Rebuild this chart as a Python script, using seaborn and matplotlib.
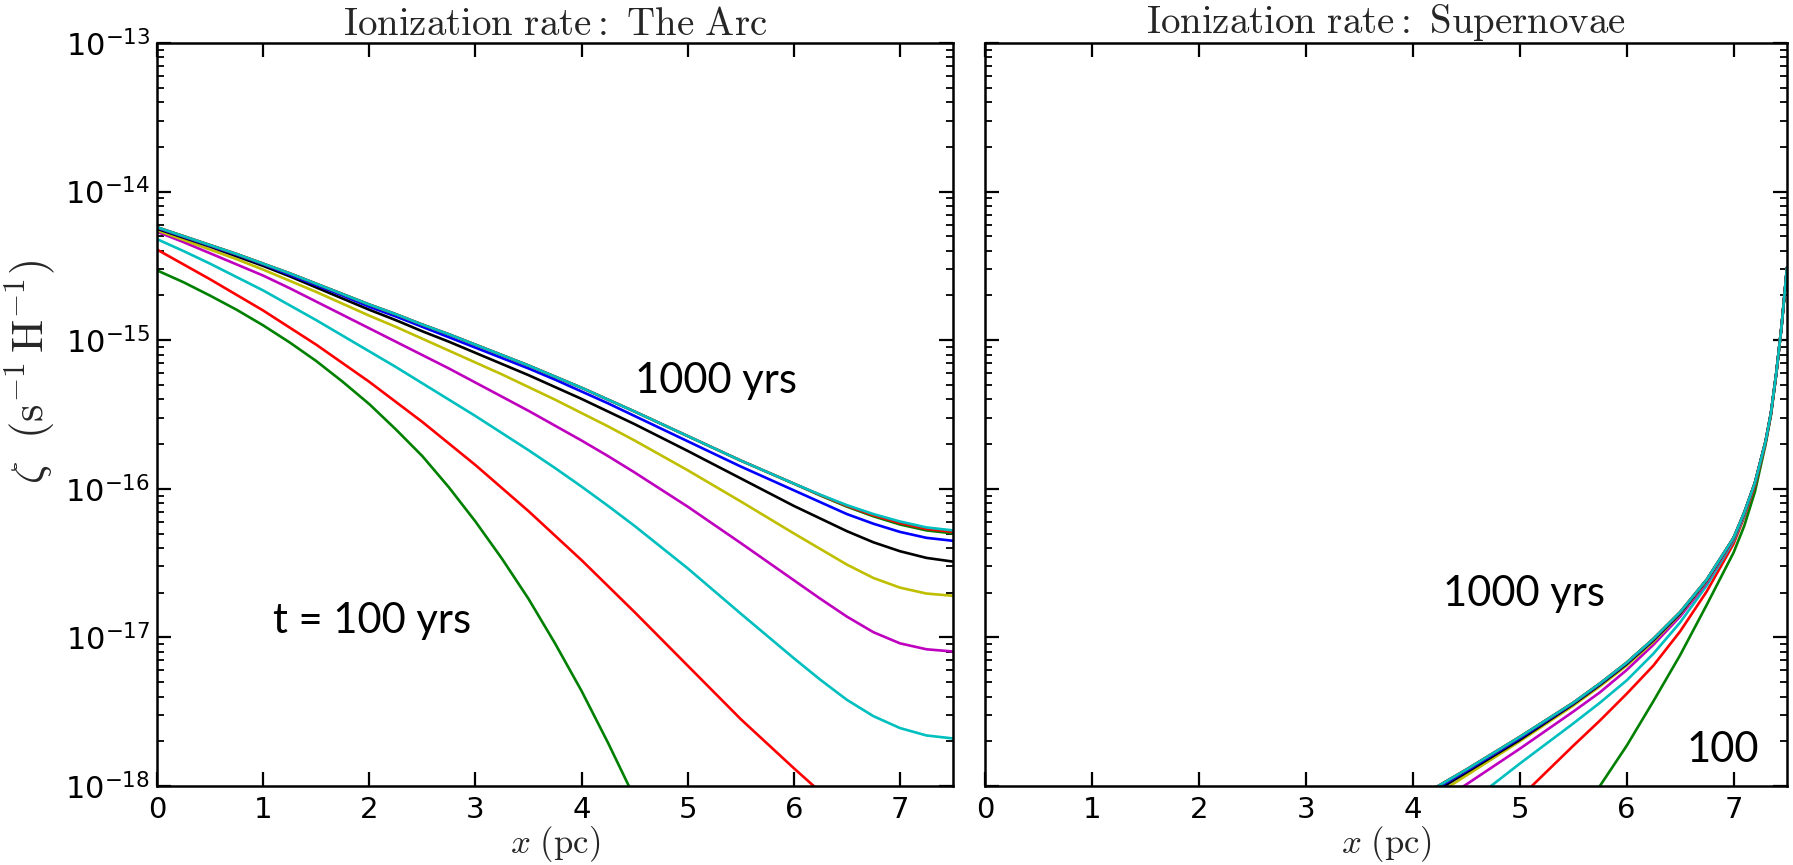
import numpy as np
import pandas as pd
import matplotlib
matplotlib.use("Agg")
import matplotlib.pyplot as plt
import seaborn as sns
from matplotlib.ticker import LogLocator, NullFormatter, FixedLocator

# ---------------- data (log10 of ionization rate, s^-1 H^-1) ----------------
times = [100, 200, 300, 400, 500, 600, 700, 800, 900, 1000]
# classic matplotlib colour cycle (g, r, c, m, y, k, b, ...)
colors = ['#008000', '#ff0000', '#00bfbf', '#bf00bf', '#bfbf00',
          '#000000', '#0000ff', '#008000', '#ff0000', '#00bfbf']

nan = np.nan
# left panel: The Arc
x_arc = [0.0, 0.25, 0.5, 0.75, 1.0, 1.25, 1.5, 1.75, 2.0, 2.25, 2.5, 2.75, 3.0, 3.25, 3.5, 3.75,
         4.0, 4.25, 4.5, 5.0, 5.5, 6.0, 6.25, 6.5, 6.75, 7.0, 7.25, 7.5]
arc_100 = [-14.53, -14.61, -14.70, -14.795, -14.90, -15.015, -15.14, -15.28, -15.43, -15.60, -15.78, -15.99,
           -16.22, -16.47, -16.74, -17.04, -17.36, -17.71, -18.08, nan, nan, nan, nan, nan, nan, nan, nan, nan]
arc_200 = [-14.39, -14.49, -14.59, -14.695, -14.80, -14.915, -15.03, -15.155, -15.28, -15.415, -15.55, -15.695,
           -15.84, -15.995, -16.15, -16.315, -16.48, -16.655, -16.83, -17.19, -17.55, -17.88, -18.04, -18.20,
           nan, nan, nan, nan]
arc_300 = [-14.32, -14.40, -14.485, -14.575, -14.665, -14.765, -14.865, -14.97, -15.075, -15.18, -15.29, -15.40,
           -15.51, -15.625, -15.74, -15.86, -15.985, -16.115, -16.25, -16.535, -16.84, -17.14, -17.285, -17.42,
           -17.53, -17.61, -17.66, -17.68]
arc_400 = [-14.27, -14.34, -14.415, -14.49, -14.565, -14.65, -14.74, -14.83, -14.92, -15.01, -15.10, -15.19,
           -15.285, -15.38, -15.475, -15.575, -15.675, -15.78, -15.89, -16.12, -16.365, -16.615, -16.74, -16.86,
           -16.965, -17.04, -17.08, -17.095]
arc_500 = [-14.26, -14.325, -14.39, -14.455, -14.525, -14.60, -14.675, -14.755, -14.835, -14.91, -14.99, -15.07,
           -15.15, -15.23, -15.315, -15.40, -15.49, -15.58, -15.675, -15.875, -16.085, -16.30, -16.405, -16.51,
           -16.60, -16.665, -16.705, -16.72]
arc_600 = [-14.25, -14.31, -14.37, -14.435, -14.50, -14.57, -14.645, -14.72, -14.795, -14.865, -14.94, -15.01,
           -15.085, -15.16, -15.235, -15.315, -15.395, -15.48, -15.565, -15.745, -15.93, -16.115, -16.20, -16.285,
           -16.36, -16.42, -16.465, -16.49]
arc_700 = [-14.245, -14.305, -14.365, -14.425, -14.49, -14.56, -14.63, -14.70, -14.775, -14.84, -14.91, -14.98,
           -15.05, -15.12, -15.19, -15.265, -15.345, -15.425, -15.51, -15.68, -15.85, -16.01, -16.09, -16.17,
           -16.235, -16.29, -16.33, -16.35]
arc_800 = [-14.24, -14.30, -14.36, -14.42, -14.485, -14.55, -14.62, -14.69, -14.76, -14.825, -14.895, -14.96,
           -15.03, -15.10, -15.17, -15.245, -15.32, -15.40, -15.48, -15.645, -15.81, -15.965, -16.045, -16.12,
           -16.185, -16.24, -16.28, -16.30]
arc_900 = [-14.24, -14.30, -14.36, -14.42, -14.485, -14.55, -14.62, -14.69, -14.76, -14.825, -14.895, -14.96,
           -15.03, -15.10, -15.17, -15.245, -15.32, -15.40, -15.48, -15.645, -15.81, -15.965, -16.042, -16.115,
           -16.178, -16.23, -16.27, -16.29]
arc_1000 = [-14.24, -14.30, -14.36, -14.42, -14.485, -14.55, -14.62, -14.69, -14.76, -14.825, -14.895, -14.96,
            -15.03, -15.10, -15.17, -15.245, -15.32, -15.40, -15.48, -15.645, -15.81, -15.965, -16.04, -16.11,
            -16.17, -16.22, -16.26, -16.28]
arc_series = [arc_100, arc_200, arc_300, arc_400, arc_500, arc_600, arc_700, arc_800, arc_900, arc_1000]

# right panel: Supernovae
x_sn = [4.0, 4.5, 5.0, 5.5, 5.75, 6.0, 6.25, 6.5, 6.75, 7.0, 7.1, 7.2, 7.3, 7.35, 7.4, 7.45, 7.5]
sn_100 = [nan, nan, nan, -18.25, -18.00, -17.73, -17.43, -17.12, -16.78, -16.43, -16.25, -16.02, -15.70, -15.505, -15.23, -14.905, -14.515]
sn_200 = [nan, nan, -18.08, -17.73, -17.56, -17.38, -17.19, -16.96, -16.69, -16.37, -16.19, -15.98, -15.69, -15.50, -15.225, -14.90, -14.51]
sn_300 = [nan, -18.13, -17.85, -17.58, -17.44, -17.29, -17.11, -16.90, -16.65, -16.35, -16.18, -15.965, -15.68, -15.49, -15.22, -14.90, -14.51]
sn_400 = [-18.23, -17.99, -17.75, -17.50, -17.37, -17.22, -17.05, -16.86, -16.63, -16.34, -16.17, -15.96, -15.68, -15.49, -15.22, -14.90, -14.51]
sn_500 = [-18.16, -17.93, -17.70, -17.46, -17.33, -17.19, -17.03, -16.845, -16.62, -16.335, -16.165, -15.96, -15.68, -15.49, -15.22, -14.90, -14.51]
sn_600 = [-18.13, -17.91, -17.69, -17.45, -17.32, -17.18, -17.02, -16.84, -16.615, -16.333, -16.162, -15.96, -15.68, -15.49, -15.22, -14.90, -14.51]
sn_700 = [-18.11, -17.90, -17.68, -17.445, -17.315, -17.175, -17.015, -16.835, -16.612, -16.332, -16.161, -15.96, -15.68, -15.49, -15.22, -14.90, -14.51]
sn_800 = [-18.10, -17.89, -17.67, -17.44, -17.31, -17.17, -17.01, -16.83, -16.61, -16.33, -16.16, -15.96, -15.68, -15.49, -15.22, -14.90, -14.51]
sn_900 = [-18.10, -17.89, -17.67, -17.44, -17.31, -17.17, -17.01, -16.83, -16.61, -16.33, -16.16, -15.96, -15.68, -15.49, -15.22, -14.90, -14.51]
sn_1000 = [-18.10, -17.89, -17.67, -17.44, -17.31, -17.17, -17.01, -16.83, -16.61, -16.33, -16.16, -15.96, -15.68, -15.49, -15.22, -14.90, -14.51]
sn_series = [sn_100, sn_200, sn_300, sn_400, sn_500, sn_600, sn_700, sn_800, sn_900, sn_1000]

x_ticks = [0, 1, 2, 3, 4, 5, 6, 7]

# ---------------- style ----------------
sns.set_theme(style="ticks", color_codes=False)
plt.rcParams.update({
    "font.family": ["DejaVu Sans"],
    "mathtext.fontset": "cm",
    "axes.linewidth": 1.8,
    "xtick.direction": "in",
    "ytick.direction": "in",
    "xtick.top": True,
    "ytick.right": True,
    "xtick.major.size": 10,
    "ytick.major.size": 10,
    "xtick.major.width": 1.6,
    "ytick.major.width": 1.6,
    "ytick.minor.size": 5,
    "ytick.minor.width": 1.3,
    "xtick.labelsize": 21,
    "ytick.labelsize": 22,
    "xtick.major.pad": 7,
    "ytick.major.pad": 5,
    "axes.edgecolor": "black",
    "xtick.color": "black",
    "ytick.color": "black",
})

fig = plt.figure(figsize=(17.93, 8.65), dpi=100)
ax1 = fig.add_axes([157 / 1793, 79 / 865, 796 / 1793, 743 / 865])
ax2 = fig.add_axes([985 / 1793, 79 / 865, 802 / 1793, 743 / 865])


def draw(ax, xs, series):
    for t, c, vals in zip(times, colors, series):
        df = pd.DataFrame({"x": xs, "zeta": np.power(10.0, np.array(vals, dtype=float))}).dropna()
        sns.lineplot(data=df, x="x", y="zeta", color=c, lw=1.9, ax=ax,
                     estimator=None, sort=False, legend=False)
    ax.set_yscale("log")
    ax.set_ylim(1e-18, 1e-13)
    ax.set_xlim(0, 7.5)
    ax.xaxis.set_major_locator(FixedLocator(x_ticks))
    ax.yaxis.set_major_locator(LogLocator(base=10, numticks=10))
    ax.yaxis.set_minor_locator(LogLocator(base=10, subs=np.arange(2, 10), numticks=20))
    ax.yaxis.set_minor_formatter(NullFormatter())
    ax.set_xlabel(r"$x\ (\mathrm{pc})$", fontsize=25, labelpad=0)
    ax.set_ylabel("")
    for s in ax.spines.values():
        s.set_linewidth(1.8)
        s.set_color("black")


draw(ax1, x_arc, arc_series)
draw(ax2, x_sn, sn_series)

ax2.tick_params(axis="y", which="both", labelleft=False)

ax1.set_title(r"$\mathrm{Ionization\ rate:\ The\ Arc}$", fontsize=28, pad=4)
ax2.set_title(r"$\mathrm{Ionization\ rate:\ Supernovae}$", fontsize=28, pad=4)

ax1.set_ylabel(r"$\zeta\ \ (\mathrm{s}^{-1}\,\mathrm{H}^{-1})$", fontsize=32)
ax1.yaxis.set_label_coords(-0.126, 0.557)

ann = dict(fontsize=30, family=["Lato", "DejaVu Sans"], color="black", ha="left", va="baseline")
ax1.text(4.505, 10 ** -15.355, "1000 yrs", **ann)
ax1.text(1.09, 10 ** -16.97, "t = 100 yrs", **ann)
ax2.text(4.28, 10 ** -16.79, "1000 yrs", **ann)
ax2.text(6.56, 10 ** -17.84, "100", **ann)

fig.savefig("out.png", dpi=100)
